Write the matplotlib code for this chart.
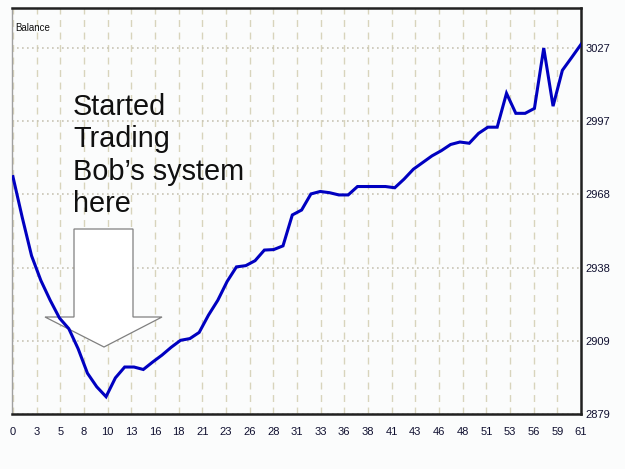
import numpy as np
import matplotlib
matplotlib.use("Agg")
import matplotlib.pyplot as plt
from matplotlib.patches import Polygon
from matplotlib import font_manager

# ── Data ─────────────────────────────────────────────────────────────────────
trade_no = list(range(62))
balance = [
    2975.0, 2958.5, 2943.0, 2933.0, 2925.0, 2917.8, 2913.5, 2905.4, 2895.5, 2890.0,
    2886.0, 2893.6, 2898.0, 2898.0, 2897.0, 2900.0, 2902.8, 2906.0, 2908.8, 2909.5,
    2912.0, 2919.0, 2925.0, 2932.6, 2938.5, 2939.0, 2941.0, 2945.3, 2945.5, 2947.0,
    2959.5, 2961.5, 2968.0, 2969.0, 2968.5, 2967.6, 2967.6, 2971.0, 2971.0, 2971.0,
    2971.0, 2970.5, 2974.0, 2978.0, 2980.7, 2983.4, 2985.5, 2988.0, 2989.0, 2988.5,
    2992.5, 2995.0, 2995.0, 3008.7, 3000.6, 3000.6, 3002.6, 3027.0, 3003.5, 3018.0,
    3023.2, 3028.5,
]
x_tick_labels = ["0", "3", "5", "8", "10", "13", "16", "18", "21", "23", "26", "28",
                 "31", "33", "36", "38", "41", "43", "46", "48", "51", "53", "56",
                 "59", "61"]
y_tick_values = [2879, 2908.6, 2938.2, 2967.8, 2997.4, 3027]
y_tick_labels = ["2879", "2909", "2938", "2968", "2997", "3027"]

# narrow font for the small axis labels if we have one
names = {f.name for f in font_manager.fontManager.ttflist}
small_font = "Liberation Sans Narrow" if "Liberation Sans Narrow" in names else "Liberation Sans"

W, H = 625, 469
fig = plt.figure(figsize=(W / 100, H / 100), dpi=100, facecolor="#fbfcfc")
ax = fig.add_axes([12 / W, 1 - 414 / H, (581 - 12) / W, (414 - 8) / H])
ax.set_facecolor("#fbfcfc")

ax.plot(trade_no, balance, color="#0000c0", lw=2.2, zorder=4,
        solid_joinstyle="miter")

ax.set_xlim(-0.1, 61)
ax.set_ylim(2879, 3043.2)
ax.set_xticks(np.linspace(0, 61, len(x_tick_labels)))
ax.set_xticklabels(x_tick_labels)
ax.set_yticks(y_tick_values)
ax.set_yticklabels(y_tick_labels)
ax.yaxis.tick_right()
ax.tick_params(axis="both", length=0, labelsize=8, labelcolor="#101030")
ax.tick_params(axis="x", pad=9)
ax.tick_params(axis="y", pad=3)
for lab in ax.get_xticklabels() + ax.get_yticklabels():
    lab.set_family(small_font)
    lab.set_stretch("condensed")

# grid: dotted horizontals, dashed verticals
ax.grid(axis="y", color="#c8c4b4", ls=(0, (1, 2)), lw=1.2, zorder=1)
ax.grid(axis="x", color="#d8d4bc", ls=(0, (5, 4)), lw=1.0, zorder=1)

for side in ["top", "bottom", "right"]:
    ax.spines[side].set_color("#202020")
    ax.spines[side].set_linewidth(1.8)
ax.spines["left"].set_color("#a0a0a0")
ax.spines["left"].set_linewidth(1.0)

ax.text(15 / W, 1 - 28 / H, "Balance", transform=fig.transFigure, fontsize=7,
        family=small_font, va="center", ha="left", color="#101010")

# annotation text and block arrow
fig.text(73 / W, 1 - 93 / H, "Started\nTrading\nBob’s system\nhere",
         family="Liberation Sans", fontsize=20.8, va="top", ha="left",
         linespacing=1.2, color="#101010")

arrow_px = [(74, 229), (133, 229), (133, 317), (162, 317), (104, 347),
            (45, 317), (74, 317)]
arrow = Polygon([(x / W, 1 - y / H) for x, y in arrow_px], closed=True,
                transform=fig.transFigure, facecolor="white",
                edgecolor="#808080", lw=0.9, zorder=3)
ax.add_patch(arrow)

fig.savefig("out.png", dpi=100, facecolor=fig.get_facecolor())
